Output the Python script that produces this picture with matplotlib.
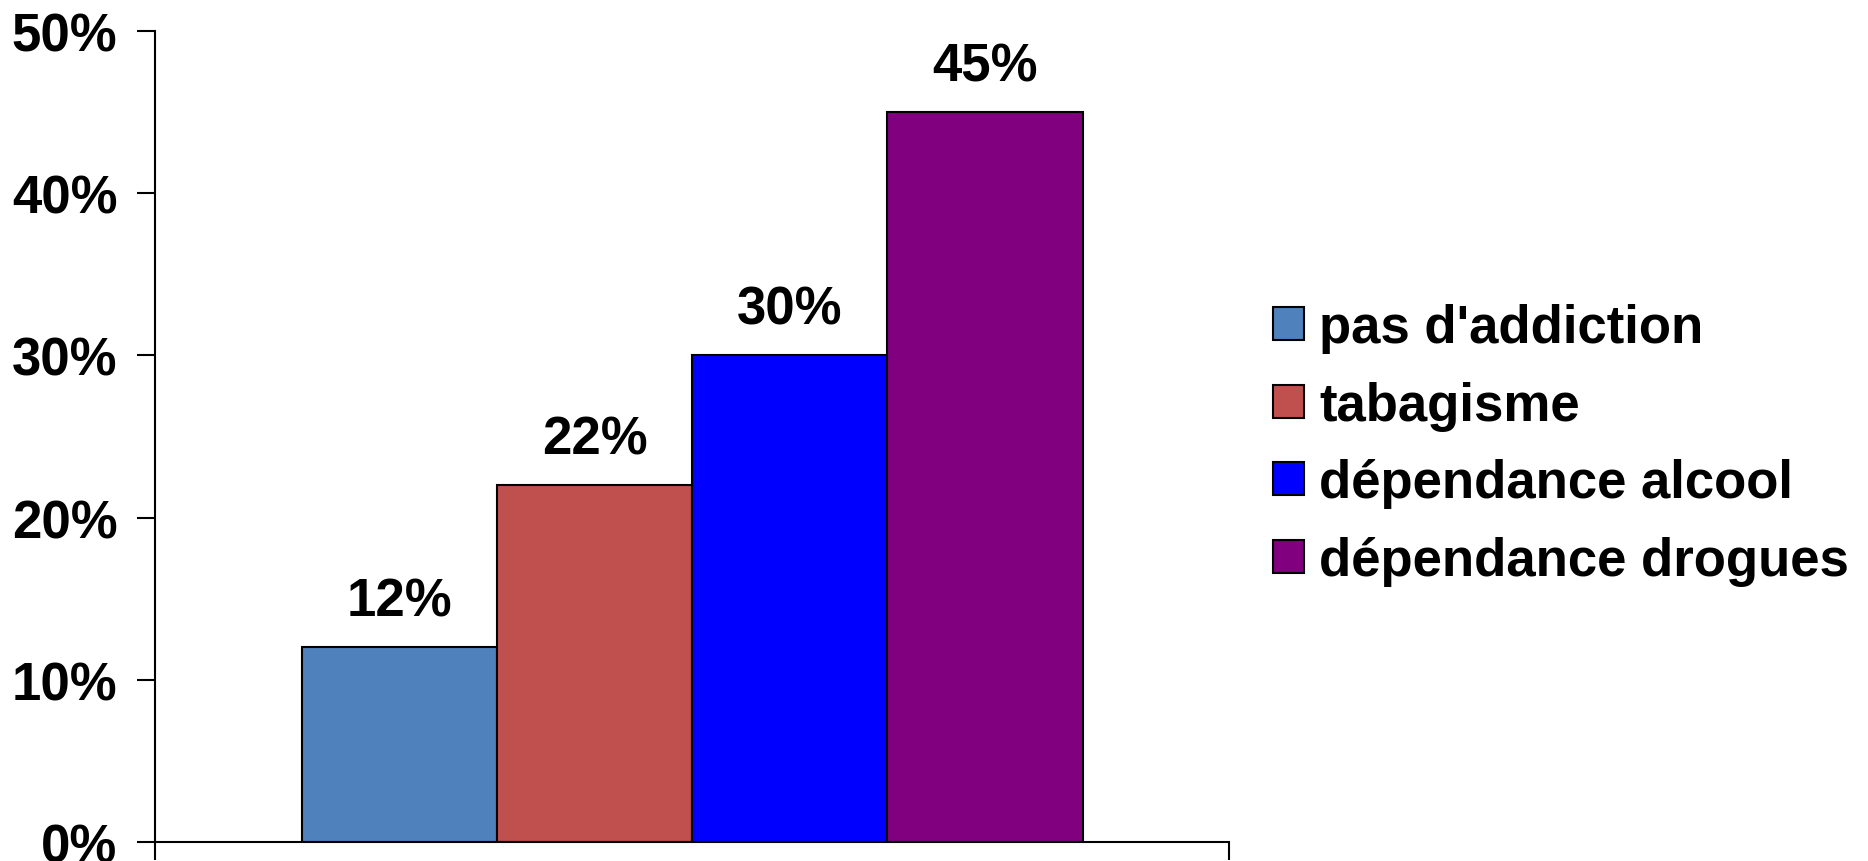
import matplotlib.pyplot as plt
from matplotlib.ticker import PercentFormatter

# data
labels = ["pas d'addiction", "tabagisme", "dépendance alcool", "dépendance drogues"]
values = [12, 22, 30, 45]
colors = ["#4F81BD", "#C0504D", "#0000FF", "#800080"]
y_ticks = [0, 10, 20, 30, 40, 50]

plt.rcParams['font.family'] = ['Liberation Sans', 'DejaVu Sans']
plt.rcParams['font.weight'] = 'bold'

fig = plt.figure(figsize=(18.68, 8.62), dpi=100)
ax = fig.add_axes([0.083, 0.022, 0.575, 0.941])

x = list(range(len(values)))
bars = ax.bar(x, values, width=1.0, color=colors, edgecolor='black', linewidth=1.5, label=labels)

for xi, v in zip(x, values):
    ax.annotate(f"{v}%", (xi, v), xytext=(0, 15), textcoords='offset points',
                ha='center', va='bottom', fontsize=38, fontweight='bold')

ax.set_xlim(-1.25, 4.25)
ax.set_ylim(0, 50)
ax.set_yticks(y_ticks)
ax.yaxis.set_major_formatter(PercentFormatter(decimals=0))
ax.set_xticks([-1.25, 4.25])
ax.set_xticklabels([])
ax.tick_params(axis='y', direction='out', length=13, width=1.5, pad=14, labelsize=38)
ax.tick_params(axis='x', direction='out', length=13, width=1.5)
for lbl in ax.get_yticklabels():
    lbl.set_fontweight('bold')

ax.spines['top'].set_visible(False)
ax.spines['right'].set_visible(False)
ax.spines['left'].set_linewidth(1.5)
ax.spines['bottom'].set_linewidth(1.5)

leg = fig.legend(handles=bars, labels=labels, loc='center left', bbox_to_anchor=(0.6815, 0.483),
                 frameon=False, fontsize=38, handlelength=0.58, handleheight=0.58,
                 handletextpad=0.3, labelspacing=0.52, borderaxespad=0, borderpad=0)
for t in leg.get_texts():
    t.set_fontweight('bold')

fig.savefig('out.png', dpi=100)
